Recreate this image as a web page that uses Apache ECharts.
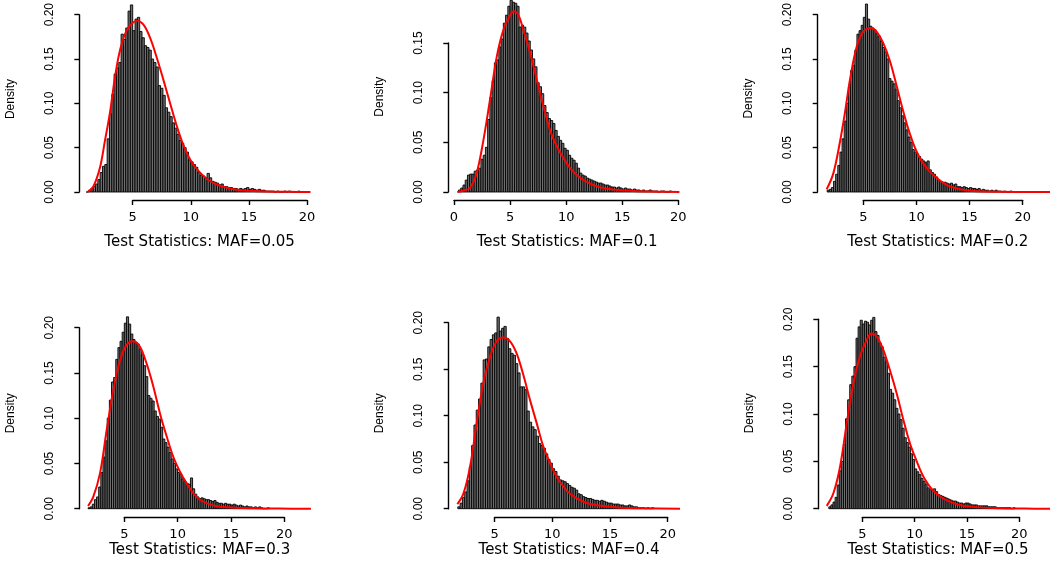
<!DOCTYPE html>
<html><head><meta charset="utf-8">
<script src="https://cdn.jsdelivr.net/npm/echarts@6/dist/echarts.min.js"></script>
<style>html,body{margin:0;padding:0;background:#fff}#c{width:1050px;height:562px}</style>
</head><body><div id="c"></div>
<script>
// ---------------- data ----------------
const binWidth = 0.2;
const panelTitles = ['Test Statistics: MAF=0.05','Test Statistics: MAF=0.1','Test Statistics: MAF=0.2',
                     'Test Statistics: MAF=0.3','Test Statistics: MAF=0.4','Test Statistics: MAF=0.5'];
const yAxisName = 'Density';
const xTickMin = [5, 0, 5, 5, 5, 5];
const xTickMax = [20, 20, 20, 20, 20, 20];
const xTickStep = 5;
const yTickMax = [0.20, 0.15, 0.20, 0.20, 0.20, 0.20];
const yTickStep = 0.05;

// first bin edge of each histogram
const binStart = [1.0, 0.4, 1.6, 1.6, 1.8, 1.8];

const densMAF005 = [
 0.000,0.002,0.004,0.006,0.009,0.014,0.022,0.029,0.031,0.060,
 0.088,0.110,0.133,0.140,0.146,0.178,0.172,0.185,0.204,0.211,
 0.182,0.195,0.197,0.181,0.174,0.165,0.163,0.160,0.150,0.146,
 0.141,0.120,0.117,0.109,0.095,0.090,0.085,0.078,0.072,0.065,
 0.058,0.055,0.050,0.045,0.036,0.034,0.031,0.028,0.022,0.019,
 0.018,0.016,0.021,0.016,0.012,0.011,0.010,0.008,0.009,0.006,
 0.006,0.005,0.005,0.004,0.004,0.003,0.004,0.003,0.004,0.005,
 0.003,0.004,0.003,0.002,0.003,0.002,0.002,0.001,0.001,0.001,
 0.001,0.000,0.001,0.000,0.000,0.001,0.000,0.001,0.000,0.000,
 0.000,0.001,0.000,0.000,0.000];
const densMAF01 = [
 0.002,0.004,0.007,0.012,0.017,0.018,0.018,0.021,0.022,0.024,
 0.033,0.037,0.045,0.073,0.095,0.112,0.130,0.133,0.146,0.154,
 0.170,0.178,0.187,0.193,0.191,0.190,0.187,0.166,0.168,0.166,
 0.160,0.152,0.143,0.134,0.126,0.110,0.106,0.099,0.087,0.080,
 0.074,0.072,0.069,0.062,0.056,0.052,0.049,0.044,0.042,0.037,
 0.034,0.032,0.029,0.024,0.019,0.017,0.016,0.014,0.013,0.012,
 0.011,0.010,0.009,0.009,0.008,0.007,0.007,0.006,0.005,0.005,
 0.004,0.005,0.004,0.003,0.004,0.003,0.003,0.002,0.003,0.002,
 0.002,0.001,0.002,0.001,0.001,0.002,0.001,0.001,0.001,0.000,
 0.001,0.001,0.000,0.000,0.001];
const densMAF02 = [
 0.002,0.003,0.005,0.012,0.020,0.030,0.045,0.060,0.080,0.100,
 0.118,0.137,0.143,0.160,0.178,0.182,0.188,0.197,0.212,0.195,
 0.187,0.185,0.183,0.179,0.176,0.170,0.163,0.158,0.150,0.128,
 0.125,0.122,0.116,0.103,0.095,0.086,0.078,0.070,0.062,0.056,
 0.048,0.045,0.043,0.040,0.037,0.035,0.033,0.035,0.025,0.022,
 0.020,0.017,0.014,0.012,0.011,0.011,0.010,0.009,0.010,0.008,
 0.009,0.006,0.006,0.005,0.006,0.005,0.004,0.005,0.004,0.004,
 0.003,0.004,0.002,0.003,0.002,0.002,0.001,0.002,0.001,0.002,
 0.001,0.001,0.000,0.001,0.000,0.000,0.001];
const densMAF03 = [
 0.001,0.002,0.005,0.010,0.013,0.024,0.040,0.057,0.075,0.100,
 0.120,0.140,0.145,0.165,0.178,0.185,0.195,0.205,0.212,0.204,
 0.193,0.187,0.184,0.182,0.176,0.170,0.158,0.146,0.125,0.122,
 0.119,0.108,0.102,0.099,0.090,0.077,0.073,0.068,0.062,0.055,
 0.050,0.044,0.040,0.038,0.033,0.030,0.028,0.027,0.034,0.022,
 0.016,0.013,0.011,0.012,0.011,0.010,0.010,0.009,0.008,0.009,
 0.007,0.006,0.006,0.005,0.006,0.005,0.005,0.004,0.005,0.004,
 0.003,0.004,0.003,0.002,0.003,0.002,0.002,0.001,0.002,0.001,
 0.002,0.001,0.000,0.000,0.001];
const densMAF04 = [
 0.002,0.006,0.012,0.018,0.030,0.045,0.068,0.090,0.106,0.118,
 0.135,0.160,0.161,0.174,0.182,0.187,0.189,0.206,0.191,0.194,
 0.196,0.183,0.172,0.167,0.165,0.156,0.146,0.131,0.131,0.128,
 0.105,0.093,0.088,0.085,0.078,0.070,0.068,0.065,0.059,0.053,
 0.049,0.043,0.040,0.035,0.031,0.030,0.029,0.027,0.025,0.023,
 0.022,0.020,0.016,0.015,0.013,0.012,0.011,0.011,0.010,0.009,
 0.009,0.008,0.009,0.008,0.007,0.006,0.006,0.005,0.005,0.005,
 0.004,0.004,0.003,0.003,0.004,0.003,0.002,0.002,0.001,0.001,
 0.001,0.000,0.001,0.000,0.001];
const densMAF05 = [
 0.002,0.004,0.007,0.012,0.025,0.040,0.050,0.068,0.095,0.115,
 0.131,0.140,0.150,0.180,0.192,0.199,0.195,0.198,0.197,0.194,
 0.199,0.202,0.187,0.183,0.175,0.171,0.160,0.155,0.143,0.126,
 0.122,0.115,0.106,0.100,0.094,0.085,0.075,0.070,0.065,0.058,
 0.052,0.042,0.039,0.036,0.032,0.029,0.026,0.022,0.020,0.019,
 0.021,0.018,0.015,0.014,0.013,0.012,0.011,0.010,0.009,0.008,
 0.008,0.007,0.006,0.006,0.005,0.006,0.006,0.005,0.004,0.004,
 0.004,0.003,0.003,0.003,0.003,0.003,0.002,0.002,0.002,0.002,
 0.001,0.001,0.001,0.001,0.001,0.001,0.001,0.000,0.001];
const histDensities = [densMAF005, densMAF01, densMAF02, densMAF03, densMAF04, densMAF05];

// fitted density curves [x, density]
const curveMAF005 = [[1.1,0],[1.6,0.006],[2.19,0.028],[2.6,0.057],[3.05,0.09],[3.48,0.13],[3.91,0.16],
 [4.48,0.182],[5.28,0.193],[5.91,0.189],[6.49,0.174],[7.06,0.152],[7.63,0.127],[8.2,0.101],[8.78,0.075],
 [9.36,0.053],[9.93,0.037],[10.5,0.026],[11.37,0.015],[12.5,0.007],[14.2,0.0022],[16.5,0.0007],[18.5,0.0002],[20.3,0]];
const curveMAF01 = [[0.29,0],[0.9,0.0015],[1.43,0.004],[2.02,0.019],[2.62,0.052],[3.21,0.093],[3.81,0.136],
 [4.4,0.163],[5.0,0.178],[5.35,0.182],[5.75,0.178],[6.19,0.163],[6.79,0.14],[7.38,0.113],[7.98,0.086],
 [8.57,0.062],[9.17,0.046],[10.36,0.024],[11.55,0.012],[13.3,0.004],[16.0,0.001],[18,0.0003],[20.1,0]];
const curveMAF02 = [[1.55,0.003],[2.18,0.021],[2.81,0.057],[3.28,0.09],[3.75,0.127],[4.38,0.164],[5.0,0.181],
 [5.72,0.185],[6.25,0.181],[6.88,0.168],[7.5,0.148],[8.13,0.12],[8.76,0.091],[9.4,0.065],[10.0,0.046],
 [10.65,0.032],[11.6,0.019],[12.85,0.008],[14.1,0.003],[15.36,0.001],[17.9,0.0002],[20.5,0],[23,0]];
const curveMAF03 = [[1.6,0.003],[2.09,0.013],[2.72,0.039],[3.35,0.087],[3.97,0.131],[4.6,0.164],[5.22,0.181],
 [5.85,0.185],[6.47,0.179],[7.1,0.16],[7.72,0.135],[8.35,0.105],[8.97,0.08],[9.6,0.057],[10.22,0.041],
 [10.85,0.028],[11.47,0.017],[12.1,0.0096],[13.34,0.0037],[14.6,0.0015],[17.1,0.0004],[19.5,0.0001],[22.5,0]];
const curveMAF04 = [[1.76,0.005],[2.28,0.016],[2.86,0.045],[3.44,0.092],[4.01,0.135],[4.59,0.163],[5.17,0.18],
 [5.75,0.184],[6.33,0.18],[6.9,0.167],[7.48,0.144],[8.06,0.117],[8.64,0.092],[9.21,0.067],[9.8,0.049],
 [10.38,0.034],[10.95,0.024],[11.53,0.016],[12.68,0.0075],[13.85,0.0036],[15.6,0.0014],[17.9,0.0004],[21.07,0]];
const curveMAF05 = [[1.6,0.003],[2.23,0.016],[2.87,0.044],[3.51,0.09],[4.14,0.132],[4.78,0.161],[5.42,0.178],
 [5.83,0.185],[6.37,0.182],[7.0,0.168],[7.65,0.146],[8.28,0.122],[8.92,0.094],[9.55,0.069],[10.2,0.05],
 [10.83,0.034],[11.78,0.019],[13.06,0.009],[14.33,0.004],[16.2,0.0014],[18.15,0.0004],[20.5,0.0001],[23,0]];
const densityCurves = [curveMAF005, curveMAF01, curveMAF02, curveMAF03, curveMAF04, curveMAF05];

// ---------------- layout (pixels) ----------------
const layout = [
 {left:132.7, width:174.3, top:10,    height:182,   yOff:53.4, xOff:8,   titleGap:35, titleShift:-20.3, nameShift:4.3},
 {left:454,   width:224.3, top:43,    height:149,   yOff:5.7,  xOff:8,   titleGap:35, titleShift:1,     nameShift:20.8},
 {left:863.3, width:159.4, top:11,    height:181,   yOff:45.6, xOff:8,   titleGap:35, titleShift:-5.2,  nameShift:4.8},
 {left:124.3, width:160,   top:327.7, height:181,   yOff:45,   xOff:8.3, titleGap:26, titleShift:-4.6,  nameShift:4.9},
 {left:494.7, width:173,   top:322.7, height:186,   yOff:46,   xOff:8.3, titleGap:26, titleShift:-12.2, nameShift:2.4},
 {left:862.3, width:157,   top:319.3, height:189.4, yOff:44,   xOff:8.3, titleGap:26, titleShift:-2.8,  nameShift:0.7}
];

const tickFont = 'DejaVu Sans';
const yFont = '"Liberation Sans Narrow", "Arial Narrow", "Liberation Sans", sans-serif';

function renderHist(params, api) {
  const x0 = api.value(0), x1 = api.value(1), h = api.value(2);
  const p0 = api.coord([x0, h]);
  const p1 = api.coord([x1, 0]);
  return {
    type: 'rect',
    shape: {x: p0[0], y: p0[1], width: p1[0] - p0[0], height: p1[1] - p0[1]},
    style: {fill: '#6e6e6e', stroke: '#000', lineWidth: 0.9}
  };
}

function makeCurveRenderer(points) {
  return function (params, api) {
    if (params.dataIndex !== 0) return null;
    const pts = points.map(p => api.coord(p));
    return {
      type: 'polyline',
      shape: {points: pts, smooth: 0.35},
      style: {stroke: '#ff0000', lineWidth: 2, fill: null}
    };
  };
}

const grids = [], xAxes = [], yAxes = [], series = [];
layout.forEach((L, i) => {
  grids.push({left: L.left, top: L.top, width: L.width, height: L.height, containLabel: false});
  const axisLineStyle = {color: '#000', width: 1.4};
  const ts = L.titleShift;
  xAxes.push({
    type: 'value', gridIndex: i, min: xTickMin[i], max: xTickMax[i], interval: xTickStep,
    offset: L.xOff, position: 'bottom',
    axisLine: {show: true, onZero: false, lineStyle: axisLineStyle},
    axisTick: {show: true, inside: false, length: 5, lineStyle: axisLineStyle},
    axisLabel: {show: true, margin: 11, color: '#000', fontFamily: tickFont, fontSize: 13,
                formatter: v => String(Math.round(v))},
    splitLine: {show: false},
    name: panelTitles[i], nameLocation: 'middle', nameGap: L.titleGap,
    nameTextStyle: {color: '#000', fontFamily: tickFont, fontSize: 15,
                    padding: ts < 0 ? [0, -2 * ts, 0, 0] : [0, 0, 0, 2 * ts]}
  });
  yAxes.push({
    type: 'value', gridIndex: i, min: 0, max: yTickMax[i], interval: yTickStep,
    offset: L.yOff, position: 'left',
    axisLine: {show: true, onZero: false, lineStyle: axisLineStyle},
    axisTick: {show: true, inside: false, length: 5, lineStyle: axisLineStyle},
    axisLabel: {show: true, rotate: 90, margin: 24, color: '#000', fontFamily: yFont, fontSize: 12,
                formatter: v => v.toFixed(2)},
    splitLine: {show: false},
    name: yAxisName, nameLocation: 'middle', nameGap: 63, nameRotate: 90,
    nameTextStyle: {color: '#000', fontFamily: yFont, fontSize: 12, padding: [0, 0, 0, 2 * L.nameShift]}
  });
  const bins = histDensities[i].map((d, k) => {
    const x0 = +(binStart[i] + k * binWidth).toFixed(3);
    return [x0, +(x0 + binWidth).toFixed(3), d];
  });
  series.push({
    type: 'custom', xAxisIndex: i, yAxisIndex: i, data: bins, clip: false,
    encode: {x: [0, 1], y: 2}, renderItem: renderHist, silent: true, z: 2
  });
  series.push({
    type: 'custom', xAxisIndex: i, yAxisIndex: i, data: densityCurves[i], clip: false,
    encode: {x: 0, y: 1}, renderItem: makeCurveRenderer(densityCurves[i]), silent: true, z: 3
  });
});

const chart = echarts.init(document.getElementById('c'), null, {renderer: 'canvas'});
chart.setOption({
  backgroundColor: '#ffffff',
  animation: false,
  grid: grids, xAxis: xAxes, yAxis: yAxes, series: series
});
</script></body></html>
